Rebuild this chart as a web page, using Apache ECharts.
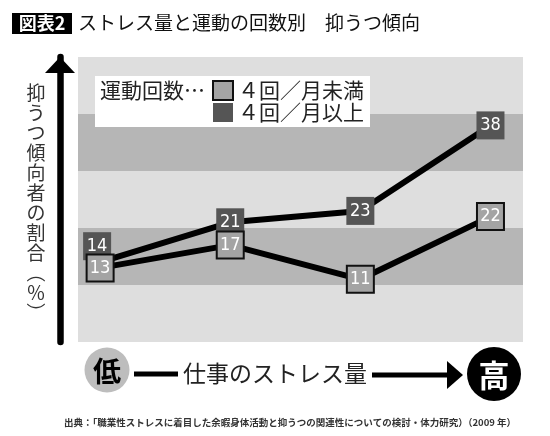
<!DOCTYPE html>
<html>
<head>
<meta charset="utf-8">
<script src="https://cdn.jsdelivr.net/npm/echarts@6/dist/echarts.min.js"></script>
<style>
  html, body { margin: 0; padding: 0; background: #fff; }
  #chart { width: 550px; height: 436px; }
</style>
</head>
<body>
<div id="chart"></div>
<script>
// データ
var stressLevels = ['低', 'やや低', 'やや高', '高']
var seriesNames = ['４回／月未満', '４回／月以上']
var lessThan4 = [13, 17, 11, 22]
var atLeast4 = [14, 21, 23, 38]
var yTicks = [0, 10, 20, 30, 40, 50]

var jp = 'Noto Sans CJK JP, sans-serif'
var narrow = 'Liberation Sans Narrow, DejaVu Sans Condensed, Roboto Condensed, Roboto, sans-serif'

function toPoints (values) {
  return values.map(function (v, i) { return [i, v] })
}

// 14 と 13 の箱が重ならないよう、最初の箱だけ少しずらす
var atLeast4Points = toPoints(atLeast4).map(function (p, i) {
  return i === 0 ? { value: p, symbolOffset: [-3, -16] } : p
})

var myChart = echarts.init(document.getElementById('chart'))

var numLabel = {
  show: true,
  position: 'inside',
  color: '#fff',
  fontSize: 18,
  fontFamily: narrow
}

var option = {
  backgroundColor: '#fff',
  textStyle: { fontFamily: jp },
  animation: false,
  grid: { left: 78, right: 27, top: 57, bottom: 94 },
  xAxis: {
    type: 'value',
    min: -0.17,
    max: 3.25,
    show: false
  },
  yAxis: {
    type: 'value',
    min: yTicks[0],
    max: yTicks[yTicks.length - 1],
    interval: 10,
    offset: 18,
    axisLabel: { show: false },
    axisTick: { show: false },
    splitLine: { show: false },
    splitArea: {
      show: true,
      areaStyle: { color: ['#dedede', '#b6b6b6'] }
    },
    axisLine: {
      show: true,
      onZero: false,
      lineStyle: { color: '#000', width: 6.5 },
      symbol: ['none', 'triangle'],
      symbolSize: [30, 16],
      symbolOffset: [0, -8]
    }
  },
  legend: {
    orient: 'vertical',
    left: 95,
    top: 76,
    padding: [4, 6, 4, 117],
    backgroundColor: '#fff',
    itemWidth: 20,
    itemHeight: 19,
    itemGap: 1,
    textStyle: { fontSize: 21, lineHeight: 21, color: '#222', fontFamily: jp },
    data: [
      { name: seriesNames[0], icon: 'rect' },
      { name: seriesNames[1], icon: 'rect' }
    ]
  },
  series: [
    {
      name: seriesNames[1],
      type: 'line',
      data: atLeast4Points,
      symbol: 'rect',
      symbolSize: 28,
      lineStyle: { color: '#000', width: 6 },
      itemStyle: { color: '#555555', borderWidth: 0 },
      label: numLabel,
      z: 2
    },
    {
      name: seriesNames[0],
      type: 'line',
      data: toPoints(lessThan4),
      symbol: 'rect',
      symbolSize: 27,
      lineStyle: { color: '#000', width: 6 },
      itemStyle: { color: '#a4a4a4', borderColor: '#111', borderWidth: 2 },
      label: numLabel,
      z: 3
    }
  ],
  graphic: [
    // タイトル
    { type: 'rect', shape: { x: 12, y: 13, width: 60, height: 21 }, style: { fill: '#000' } },
    { type: 'text', x: 42, y: 23.5, style: { text: '図表2', fill: '#fff', font: 'bold 18px ' + jp, align: 'center', verticalAlign: 'middle' } },
    { type: 'text', x: 78, y: 23, style: { text: 'ストレス量と運動の回数別', fill: '#111', font: '19px ' + jp, verticalAlign: 'middle' } },
    { type: 'text', x: 325, y: 23, style: { text: '抑うつ傾向', fill: '#111', font: '19px ' + jp, verticalAlign: 'middle' } },
    // 凡例の見出し
    { type: 'text', x: 100, y: 90.5, z: 100, style: { text: '運動回数…', fill: '#222', font: '21px ' + jp, verticalAlign: 'middle' } },
    // 縦軸の名前
    {
      type: 'text', x: 36, y: 203,
      style: {
        text: '抑\nう\nつ\n傾\n向\n者\nの\n割\n合\n︵\n％\n︶',
        fill: '#333', font: '19px ' + jp, lineHeight: 20, align: 'center', verticalAlign: 'middle'
      }
    },
    // 横軸（仕事のストレス量）
    { type: 'circle', shape: { cx: 107, cy: 370, r: 22.5 }, style: { fill: '#bdbdbd' } },
    { type: 'text', x: 107, y: 371, style: { text: '低', fill: '#000', font: 'bold 28px ' + jp, align: 'center', verticalAlign: 'middle' } },
    { type: 'line', shape: { x1: 134, y1: 374, x2: 178, y2: 374 }, style: { stroke: '#000', lineWidth: 5 } },
    { type: 'text', x: 275, y: 373, style: { text: '仕事のストレス量', fill: '#222', font: '23px ' + jp, align: 'center', verticalAlign: 'middle' } },
    { type: 'line', shape: { x1: 372, y1: 375, x2: 450, y2: 375 }, style: { stroke: '#000', lineWidth: 5 } },
    { type: 'polygon', shape: { points: [[447, 361], [463, 375], [447, 389]] }, style: { fill: '#000' } },
    { type: 'circle', shape: { cx: 494, cy: 374, r: 27 }, style: { fill: '#000' } },
    { type: 'text', x: 494, y: 375, style: { text: '高', fill: '#fff', font: 'bold 31px ' + jp, align: 'center', verticalAlign: 'middle' } },
    // 出典
    { type: 'text', x: 290, y: 422, style: { text: '出典：「職業性ストレスに着目した余暇身体活動と抑うつの関連性についての検討・体力研究）（2009 年）', fill: '#333', font: 'bold 9.5px ' + jp, align: 'center', verticalAlign: 'middle' } }
  ]
}

myChart.setOption(option)
</script>
</body>
</html>
